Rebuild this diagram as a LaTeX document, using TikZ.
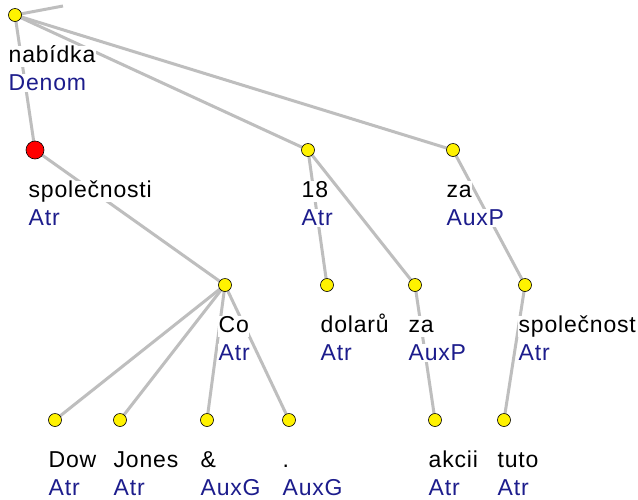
\documentclass[tikz,border=0pt]{standalone}
\usepackage{fontspec}
\setmainfont[LetterSpace=3.5]{Liberation Sans}
\definecolor{edgegray}{RGB}{190,190,190}
\definecolor{funcblue}{RGB}{28,28,140}
\pgfdeclarelayer{bg}
\pgfdeclarelayer{edges}
\pgfdeclarelayer{labels}
\pgfsetlayers{bg,edges,labels,main}
\newcommand\treelabel[3]{%
  \begin{pgfonlayer}{labels}
    \path (#1) ++(-7,41) node[wlab] (#1-w) {#2};
    \path (#1) ++(-7,67.5) node[flab] (#1-f) {#3};
  \end{pgfonlayer}}
\begin{document}
\begin{tikzpicture}[x=1pt,y=-1pt,
  edge/.style={draw=edgegray, line width=3pt},
  tnode/.style={circle, draw=black, fill=yellow, minimum size=13pt, inner sep=0pt, line width=0.6pt},
  rnode/.style={tnode, fill=red, minimum size=18pt},
  wlab/.style={anchor=west, fill=white, inner sep=0.5pt, text height=16pt, text depth=4pt, text=black, font=\fontsize{23}{26}\selectfont},
  flab/.style={wlab, text depth=1pt, text=funcblue}]
\begin{pgfonlayer}{bg}
\fill[white] (0,0) rectangle (638,499);
\end{pgfonlayer}
\useasboundingbox (0,0) rectangle (638,499);
% tree nodes
\node[tnode] (root) at (15,15) {};
\node[rnode] (spol) at (35,150) {};
\node[tnode] (n18)  at (308,150) {};
\node[tnode] (za1)  at (453,150) {};
\node[tnode] (co)   at (225,285) {};
\node[tnode] (dol)  at (327,285) {};
\node[tnode] (za2)  at (415,285) {};
\node[tnode] (spt)  at (525,285) {};
\node[tnode] (dow)  at (55,420) {};
\node[tnode] (jon)  at (120,420) {};
\node[tnode] (amp)  at (207,420) {};
\node[tnode] (dot)  at (289,420) {};
\node[tnode] (akc)  at (435,420) {};
\node[tnode] (tut)  at (504,420) {};
\coordinate (up) at (63,6);
% labels
\treelabel{root}{nabídka}{Denom}
\treelabel{spol}{společnosti}{Atr}
\treelabel{n18}{18}{Atr}
\treelabel{za1}{za}{AuxP}
\treelabel{co}{Co}{Atr}
\treelabel{dol}{dolarů}{Atr}
\treelabel{za2}{za}{AuxP}
\treelabel{spt}{společnost}{Atr}
\treelabel{dow}{Dow}{Atr}
\treelabel{jon}{Jones}{Atr}
\treelabel{amp}{\&}{AuxG}
\treelabel{dot}{.}{AuxG}
\treelabel{akc}{akcii}{Atr}
\treelabel{tut}{tuto}{Atr}
% edges
\begin{pgfonlayer}{edges}
\draw[edge] (root.center) -- (up);
\draw[edge] (root.center) -- (spol.center);
\draw[edge] (root.center) -- (n18.center);
\draw[edge] (root.center) -- (za1.center);
\draw[edge] (spol.center) -- (co.center);
\draw[edge] (co.center) -- (dow.center);
\draw[edge] (co.center) -- (jon.center);
\draw[edge] (co.center) -- (amp.center);
\draw[edge] (co.center) -- (dot.center);
\draw[edge] (n18.center) -- (dol.center);
\draw[edge] (n18.center) -- (za2.center);
\draw[edge] (za1.center) -- (spt.center);
\draw[edge] (za2.center) -- (akc.center);
\draw[edge] (spt.center) -- (tut.center);
\end{pgfonlayer}
\end{tikzpicture}
\end{document}
